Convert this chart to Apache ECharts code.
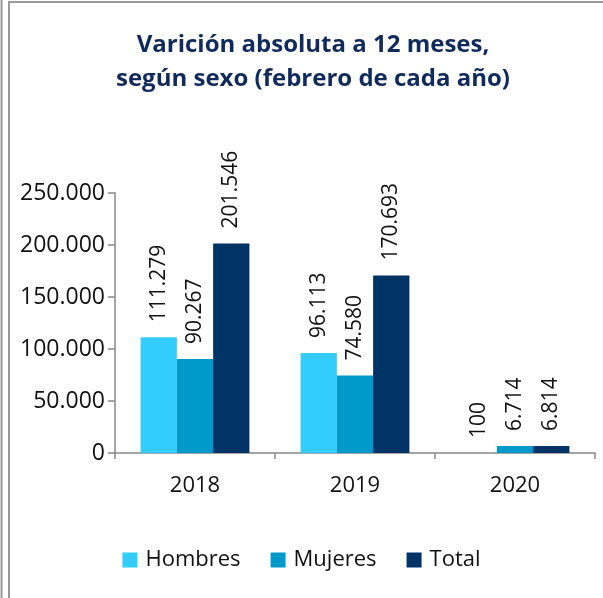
<!DOCTYPE html>
<html>
<head>
<meta charset="utf-8">
<script src="https://cdn.jsdelivr.net/npm/echarts@6/dist/echarts.min.js"></script>
<style>
html,body{margin:0;padding:0;background:#fff;}
#chartDiv{width:603px;height:598px;}
</style>
</head>
<body>
<div id="chartDiv"></div>
<script>
var myChart=echarts.init(document.getElementById('chartDiv'));

//datos
var years=['2018','2019','2020'];
var hombres=[111279,96113,100];
var mujeres=[90267,74580,6714];
var total=[201546,170693,6814];
var yTicks=[0,50000,100000,150000,200000,250000];

//formato con punto de miles
function fmt(v){
	return String(v).replace(/\B(?=(\d{3})+(?!\d))/g,'.');
}

var fontFam='"Open Sans", "Noto Sans", sans-serif';

function makeSerie(name,data,color){
	return {
		name:name,
		type:'bar',
		data:data,
		barGap:'0%',
		barCategoryGap:'32%',
		itemStyle:{color:color},
		label:{
			show:true,
			position:'top',
			rotate:90,
			align:'left',
			verticalAlign:'middle',
			distance:15,
			fontFamily:fontFam,
			fontSize:21,
			color:'#111',
			formatter:function(p){return fmt(p.value);}
		}
	};
}

var option={
	animation:false,
	title:{
		text:'Varición absoluta a 12 meses,\nsegún sexo (febrero de cada año)',
		left:308,
		textAlign:'center',
		top:23,
		textStyle:{
			fontFamily:fontFam,
			fontWeight:'bold',
			fontSize:24,
			lineHeight:34,
			color:'#102a5c'
		}
	},
	legend:{
		bottom:22,
		left:'center',
		itemWidth:15,
		itemHeight:15,
		itemGap:30,
		icon:'rect',
		textStyle:{fontFamily:fontFam,fontSize:22,color:'#111',padding:[0,0,0,3]},
		data:['Hombres','Mujeres','Total']
	},
	grid:{left:115,right:8,top:193,bottom:145,containLabel:false},
	xAxis:{
		type:'category',
		data:years,
		axisLine:{lineStyle:{color:'#888',width:1.5}},
		axisTick:{show:true,length:6,lineStyle:{color:'#888',width:1.5}},
		axisLabel:{fontFamily:fontFam,fontSize:22,color:'#111',margin:22}
	},
	yAxis:{
		type:'value',
		min:yTicks[0],
		max:yTicks[yTicks.length-1],
		interval:50000,
		splitLine:{show:false},
		axisLine:{show:true,lineStyle:{color:'#888',width:1.5}},
		axisTick:{show:true,length:7,lineStyle:{color:'#888',width:1.5}},
		axisLabel:{fontFamily:fontFam,fontSize:23,color:'#111',margin:10,formatter:function(v){return fmt(v);}}
	},
	graphic:[
		{type:'line',shape:{x1:1.5,y1:0,x2:1.5,y2:598},style:{stroke:'#999',lineWidth:2}},
		{type:'line',shape:{x1:9,y1:2,x2:9,y2:598},style:{stroke:'#999',lineWidth:2}},
		{type:'line',shape:{x1:8,y1:2,x2:603,y2:2},style:{stroke:'#999',lineWidth:2}}
	],
	series:[
		makeSerie('Hombres',hombres,'#33ccff'),
		makeSerie('Mujeres',mujeres,'#0099cc'),
		makeSerie('Total',total,'#003366')
	]
};
myChart.setOption(option);
</script>
</body>
</html>
